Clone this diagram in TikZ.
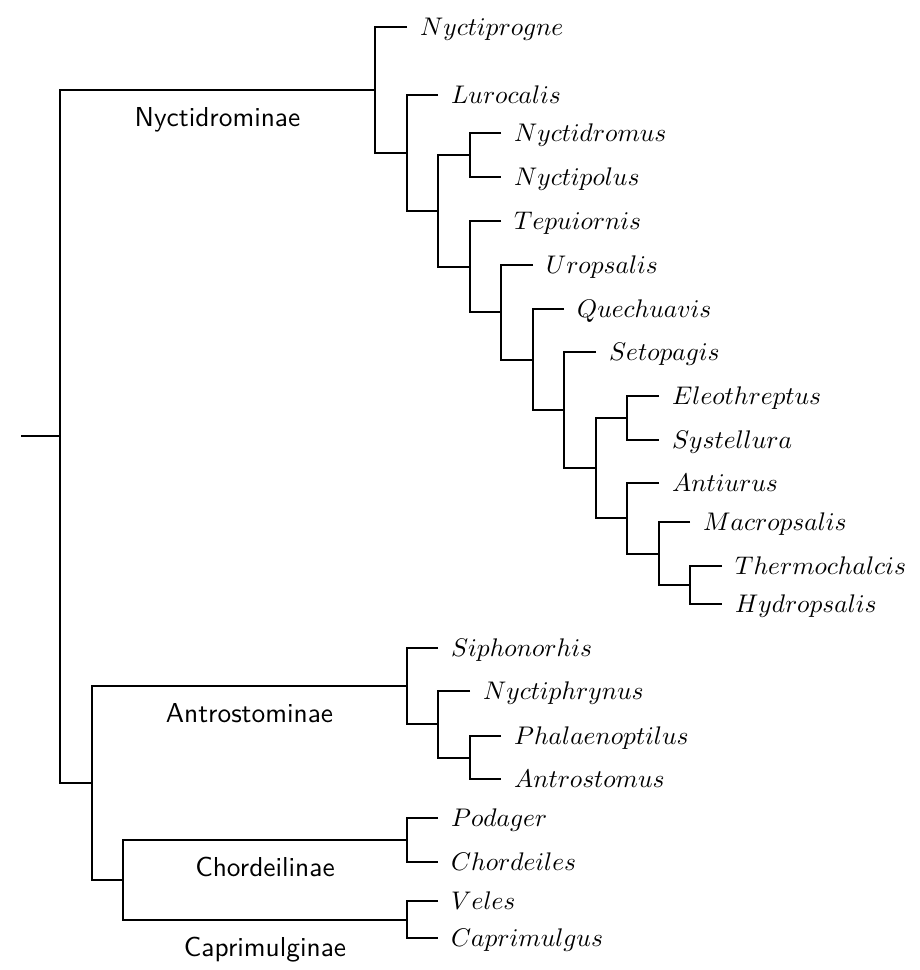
\documentclass[tikz,border=0pt]{standalone}
\usepackage{amsmath, amsfonts, amssymb}
\usepackage{xcolor}
\usepackage{graphicx}
\usepackage{tikz}

\tikzset{
	branch/.style={line width=0.75pt},
	taxon/.style={anchor=base west, inner sep=0pt, xshift=4.6pt, yshift=-3pt},
	clade/.style={anchor=base, inner sep=0pt, yshift=-13.5pt, font=\sffamily},
}

\newcommand{\genus}[1]{\scalebox{0.93}{$#1$}}

\begin{document}
\begin{tikzpicture}[x=0.365pt, y=-0.365pt]

\useasboundingbox (0,0) rectangle (919,970);

\foreach \n/\x/\y in {root/60/436, nA/375/90, nB/407/153, nC/438/211, nD/470/155,
	nE/470/267, nF/501/312, nG/533/360, nH/564/410, nI/596/468,
	nJ/627/418, nK/627/518, nL/659/554, nM/690/585,
	nN/92/783, nO/407/686, nP/438/724, nQ/470/758,
	nR/123/880, nS/407/840, nT/407/920}{
	\coordinate (\n) at (\x,\y);
}

\foreach \n/\x/\y in {Nyctiprogne/407/27, Lurocalis/438/95, Nyctidromus/501/133,
	Nyctipolus/501/177, Tepuiornis/501/221, Uropsalis/533/265, Quechuavis/564/309,
	Setopagis/596/352, Eleothreptus/659/396, Systellura/659/440,
	Antiurus/659/483, Macropsalis/690/522, Thermochalcis/722/566,
	Hydropsalis/722/604, Siphonorhis/438/648, Nyctiphrynus/470/691,
	Phalaenoptilus/501/736, Antrostomus/501/779, Podager/438/818,
	Chordeiles/438/862, Veles/438/901, Caprimulgus/438/938}{
	\coordinate (\n) at (\x,\y);
	\node[taxon] (\n-name) at (\n) {\genus{\n}};
}

\coordinate (stem) at (21,436);
\draw[branch] (stem) -- (root);

\foreach \p/\a/\b in {root/nA/nN, nA/Nyctiprogne/nB, nB/Lurocalis/nC, nC/nD/nE,
	nD/Nyctidromus/Nyctipolus, nE/Tepuiornis/nF, nF/Uropsalis/nG, nG/Quechuavis/nH,
	nH/Setopagis/nI, nI/nJ/nK, nJ/Eleothreptus/Systellura, nK/Antiurus/nL,
	nL/Macropsalis/nM, nM/Thermochalcis/Hydropsalis,
	nN/nO/nR, nO/Siphonorhis/nP, nP/Nyctiphrynus/nQ, nQ/Phalaenoptilus/Antrostomus,
	nR/nS/nT, nS/Podager/Chordeiles, nT/Veles/Caprimulgus}{
	\draw[branch] (\a) -| (\p) |- (\b);
}

\path (root |- nA) -- node[clade] (Nyctidrominae) {Nyctidrominae} (nA);
\path (nN |- nO) -- node[clade] (Antrostominae) {Antrostominae} (nO);
\path (nR |- nS) -- node[clade] (Chordeilinae) {Chordeilinae} (nS);
\path (nR |- nT) -- node[clade] (Caprimulginae) {Caprimulginae} (nT);

\end{tikzpicture}
\end{document}
